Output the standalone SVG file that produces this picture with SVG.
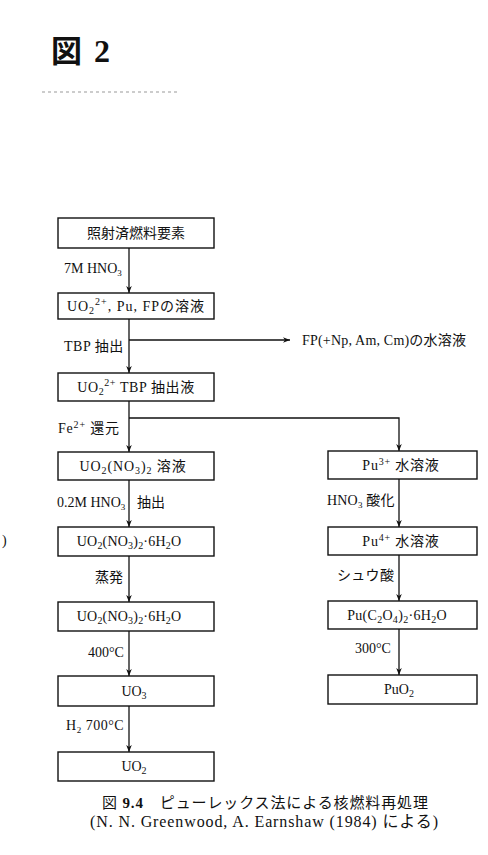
<svg xmlns="http://www.w3.org/2000/svg" width="488" height="855" viewBox="0 0 488 855">
<defs>
<style>
.box{fill:#fff;stroke:#111;stroke-width:1.4}
.bt{font-family:"Liberation Serif","Noto Sans CJK JP",serif;font-size:14px;fill:#111;text-anchor:middle}
.lb{font-family:"Liberation Serif","Noto Sans CJK JP",serif;font-size:14px;fill:#111}
.ln{fill:none;stroke:#111;stroke-width:1.3}
.cap{font-family:"Liberation Serif","Noto Sans CJK JP",serif;fill:#111}
</style>
<marker id="ah" viewBox="0 0 10 10" refX="10" refY="5" markerWidth="7" markerHeight="7" orient="auto" markerUnits="userSpaceOnUse">
<path d="M0,1 L10,5 L0,9 L3,5 Z" fill="#111"/>
</marker>
</defs>
<rect width="488" height="855" fill="#fff"/>
<g id="title">
<text x="51" y="62" font-family="'Noto Sans CJK JP',sans-serif" font-weight="bold" font-size="31" fill="#111">図</text>
<text x="94" y="62" font-family="'Liberation Serif',serif" font-weight="bold" font-size="32" fill="#111">2</text>
<line x1="42" y1="92" x2="177" y2="92" stroke="#999" stroke-width="1" stroke-dasharray="3,3"/>
</g>
<g id="connectors">
<line class="ln" x1="129" y1="248" x2="129" y2="293" marker-end="url(#ah)"/>
<line class="ln" x1="129" y1="319" x2="129" y2="373" marker-end="url(#ah)"/>
<line class="ln" x1="129" y1="340" x2="290" y2="340" marker-end="url(#ah)"/>
<line class="ln" x1="129" y1="401" x2="129" y2="452" marker-end="url(#ah)"/>
<polyline class="ln" points="129,418 399,418 399,451" marker-end="url(#ah)"/>
<line class="ln" x1="129" y1="480" x2="129" y2="527" marker-end="url(#ah)"/>
<line class="ln" x1="129" y1="556" x2="129" y2="602" marker-end="url(#ah)"/>
<line class="ln" x1="129" y1="631" x2="129" y2="676" marker-end="url(#ah)"/>
<line class="ln" x1="129" y1="706" x2="129" y2="752" marker-end="url(#ah)"/>
<line class="ln" x1="399" y1="479" x2="399" y2="527" marker-end="url(#ah)"/>
<line class="ln" x1="399" y1="555" x2="399" y2="601" marker-end="url(#ah)"/>
<line class="ln" x1="399" y1="629" x2="399" y2="675" marker-end="url(#ah)"/>
</g>
<g id="labels">
<text class="lb" x="64" y="273">7M HNO<tspan font-size="9" dy="3">3</tspan></text>
<text class="lb" x="64" y="351" letter-spacing="0.5">TBP 抽出</text>
<text class="lb" x="58" y="433" letter-spacing="0.8">Fe<tspan font-size="10" dy="-5">2+</tspan><tspan dy="5"> 還元</tspan></text>
<text class="lb" x="57" y="507">0.2M HNO<tspan font-size="9" dy="3">3</tspan></text>
<text class="lb" x="137" y="507">抽出</text>
<text class="lb" x="95" y="582">蒸発</text>
<text class="lb" x="88" y="657">400°C</text>
<text class="lb" x="66" y="730" letter-spacing="0.5">H<tspan font-size="9" dy="3">2</tspan><tspan dy="-3"> 700°C</tspan></text>
<text class="lb" x="327" y="505" letter-spacing="0.2">HNO<tspan font-size="9" dy="3">3</tspan><tspan dy="-3"> 酸化</tspan></text>
<text class="lb" x="337" y="580" letter-spacing="0.3">シュウ酸</text>
<text class="lb" x="355" y="653">300°C</text>
<text class="lb" x="302" y="345" letter-spacing="0.2">FP(+Np, Am, Cm)の水溶液</text>
<text class="lb" x="2" y="545">)</text>
</g>
<g id="n1"><rect class="box" x="58" y="218" width="156" height="30"/><text class="bt" x="136" y="238">照射済燃料要素</text></g>
<g id="n2"><rect class="box" x="58" y="293" width="156" height="26"/><text class="bt" x="136" y="311" letter-spacing="1">UO<tspan font-size="10" dy="3">2</tspan><tspan font-size="10" dy="-9">2+</tspan><tspan dy="6">, Pu, FPの溶液</tspan></text></g>
<g id="n3"><rect class="box" x="58" y="373" width="156" height="28"/><text class="bt" x="136" y="392" letter-spacing="0.6">UO<tspan font-size="10" dy="3">2</tspan><tspan font-size="10" dy="-9">2+</tspan><tspan dy="6"> TBP 抽出液</tspan></text></g>
<g id="n4"><rect class="box" x="58" y="452" width="156" height="28"/><text class="bt" x="133" y="471" letter-spacing="0.9">UO<tspan font-size="10" dy="3">2</tspan><tspan dy="-3">(NO</tspan><tspan font-size="10" dy="3">3</tspan><tspan dy="-3">)</tspan><tspan font-size="10" dy="3">2</tspan><tspan dy="-3"> 溶液</tspan></text></g>
<g id="n5"><rect class="box" x="58" y="527" width="156" height="29"/><text class="bt" x="129" y="546" letter-spacing="0.2">UO<tspan font-size="10" dy="3">2</tspan><tspan dy="-3">(NO</tspan><tspan font-size="10" dy="3">3</tspan><tspan dy="-3">)</tspan><tspan font-size="10" dy="3">2</tspan><tspan dy="-3">·6H</tspan><tspan font-size="10" dy="3">2</tspan><tspan dy="-3">O</tspan></text></g>
<g id="n6"><rect class="box" x="58" y="602" width="156" height="29"/><text class="bt" x="129" y="621" letter-spacing="0.2">UO<tspan font-size="10" dy="3">2</tspan><tspan dy="-3">(NO</tspan><tspan font-size="10" dy="3">3</tspan><tspan dy="-3">)</tspan><tspan font-size="10" dy="3">2</tspan><tspan dy="-3">·6H</tspan><tspan font-size="10" dy="3">2</tspan><tspan dy="-3">O</tspan></text></g>
<g id="n7"><rect class="box" x="58" y="676" width="156" height="30"/><text class="bt" x="134" y="696">UO<tspan font-size="10" dy="3">3</tspan></text></g>
<g id="n8"><rect class="box" x="58" y="752" width="156" height="29"/><text class="bt" x="134" y="771">UO<tspan font-size="10" dy="3">2</tspan></text></g>
<g id="n9"><rect class="box" x="328" y="451" width="149" height="28"/><text class="bt" x="401" y="470" letter-spacing="0.8">Pu<tspan font-size="10" dy="-5">3+</tspan><tspan dy="5"> 水溶液</tspan></text></g>
<g id="n10"><rect class="box" x="328" y="527" width="149" height="28"/><text class="bt" x="401" y="546" letter-spacing="0.8">Pu<tspan font-size="10" dy="-5">4+</tspan><tspan dy="5"> 水溶液</tspan></text></g>
<g id="n11"><rect class="box" x="328" y="601" width="149" height="28"/><text class="bt" x="397" y="620" letter-spacing="0.3">Pu(C<tspan font-size="10" dy="3">2</tspan><tspan dy="-3">O</tspan><tspan font-size="10" dy="3">4</tspan><tspan dy="-3">)</tspan><tspan font-size="10" dy="3">2</tspan><tspan dy="-3">·6H</tspan><tspan font-size="10" dy="3">2</tspan><tspan dy="-3">O</tspan></text></g>
<g id="n12"><rect class="box" x="328" y="675" width="149" height="29"/><text class="bt" x="399" y="694">PuO<tspan font-size="10" dy="3">2</tspan></text></g>
<g id="caption">
<text class="cap" x="102" y="808" font-size="15" textLength="326" lengthAdjust="spacing">図 <tspan font-weight="bold">9.4</tspan>　ピューレックス法による核燃料再処理</text>
<text class="cap" x="90" y="827" font-size="16" textLength="348" lengthAdjust="spacing">(N. N. Greenwood, A. Earnshaw (1984) による)</text>
</g>
</svg>
